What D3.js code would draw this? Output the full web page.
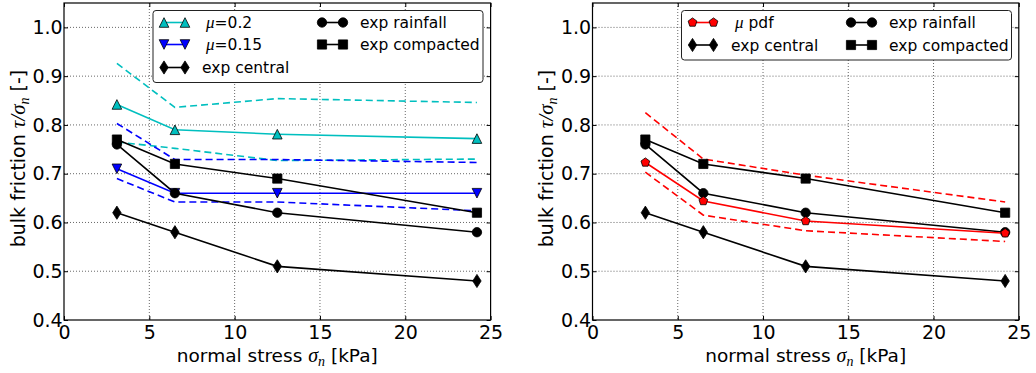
<!DOCTYPE html>
<html><head><meta charset="utf-8">
<script src="https://cdn.jsdelivr.net/npm/d3@7"></script>
<style>body{margin:0;background:#fff} svg{display:block} text{font-family:"DejaVu Sans",sans-serif;fill:#000}</style>
</head><body><svg id="c" width="1036" height="373"></svg>
<script>
// ---- data ----
const stress = [3.1, 6.5, 12.5, 24.2];
const mu02 = [0.842, 0.790, 0.781, 0.772];
const mu02Upper = [0.926, 0.836, 0.854, 0.846];
const mu02Lower = [0.765, 0.752, 0.727, 0.730];
const mu015 = [0.710, 0.660, 0.660, 0.660];
const mu015Upper = [0.803, 0.729, 0.729, 0.723];
const mu015Lower = [0.690, 0.642, 0.642, 0.624];
const expRainfall = [0.760, 0.660, 0.620, 0.580];
const expCompacted = [0.770, 0.720, 0.690, 0.620];
const expCentral = [0.620, 0.580, 0.510, 0.480];
const muPdf = [0.723, 0.644, 0.603, 0.578];
const muPdfUpper = [0.825, 0.730, 0.697, 0.642];
const muPdfLower = [0.703, 0.615, 0.583, 0.561];
const xTicks = [0, 5, 10, 15, 20, 25];
const xTickLabels = ["0", "5", "10", "15", "20", "25"];
const yTicks = [0.4, 0.5, 0.6, 0.7, 0.8, 0.9, 1.0];
const yTickLabels = ["0.4", "0.5", "0.6", "0.7", "0.8", "0.9", "1.0"];
const xDomain = [0, 25];
const yDomain = [0.4, 1.05];

const CYAN = "#00bfbf", BLUE = "#0000ff", RED = "#ff0000", BLACK = "#000000";

const svg = d3.select("#c");

function markerPath(type) {
  switch (type) {
    case "triUp": { const r = 4.8; return `M0,${-r}L${r},${r}L${-r},${r}Z`; }
    case "triDown": { const r = 4.8; return `M0,${r}L${r},${-r}L${-r},${-r}Z`; }
    case "square": { const r = 4.6; return `M${-r},${-r}H${r}V${r}H${-r}Z`; }
    case "diamond": { const w = 4.2, h = 6.6; return `M0,${-h}L${w},0L0,${h}L${-w},0Z`; }
    case "circle": { const r = 4.7; return d3.symbol(d3.symbolCircle, Math.PI * r * r)(); }
    case "pentagon": {
      const r = 4.6; let p = "";
      for (let i = 0; i < 5; i++) { const a = -Math.PI / 2 + i * 2 * Math.PI / 5; p += (i ? "L" : "M") + (r * Math.cos(a)).toFixed(2) + "," + (r * Math.sin(a)).toFixed(2); }
      return p + "Z";
    }
  }
}

function panel(x0, x1, series, legend) {
  const x = d3.scaleLinear().domain(xDomain).range([x0, x1]);
  const y = d3.scaleLinear().domain(yDomain).range([320, 3]);
  const g = svg.append("g");
  const [top, bottom] = y.range().slice().reverse();
  g.append("g").selectAll("line").data(xTicks.slice(1, -1)).join("line")
    .attr("x1", d => x(d)).attr("x2", d => x(d)).attr("y1", y(yDomain[1])).attr("y2", y(yDomain[0]))
    .attr("stroke", "#000").attr("stroke-width", 0.6).attr("stroke-dasharray", "1,2");
  g.append("g").selectAll("line").data(yTicks.slice(1)).join("line")
    .attr("y1", d => y(d)).attr("y2", d => y(d)).attr("x1", x0).attr("x2", x1)
    .attr("stroke", "#000").attr("stroke-width", 0.6).attr("stroke-dasharray", "1,2");
  const axB = d3.axisBottom(x).tickValues(xTicks).tickFormat((d, i) => xTickLabels[i]).tickSizeInner(-4).tickSizeOuter(0).tickPadding(6);
  const axT = d3.axisTop(x).tickValues(xTicks).tickFormat("").tickSizeInner(-4).tickSizeOuter(0);
  const axL = d3.axisLeft(y).tickValues(yTicks).tickFormat((d, i) => yTickLabels[i]).tickSizeInner(-4).tickSizeOuter(0).tickPadding(7);
  const axR = d3.axisRight(y).tickValues(yTicks).tickFormat("").tickSizeInner(-4).tickSizeOuter(0);
  const gb = g.append("g").attr("transform", `translate(0,${y(yDomain[0])})`).call(axB);
  const gt = g.append("g").attr("transform", `translate(0,${y(yDomain[1])})`).call(axT);
  const gl = g.append("g").attr("transform", `translate(${x0},0)`).call(axL);
  const gr = g.append("g").attr("transform", `translate(${x1},0)`).call(axR);
  [gb, gt, gl, gr].forEach(a => { a.select(".domain").remove(); a.selectAll("line").attr("stroke", "#000").attr("stroke-width", 1); a.selectAll("text").attr("font-family", "DejaVu Sans").attr("font-size", 19).attr("fill", "#000"); });
  gl.selectAll("text").attr("dx", "0.3em");
  g.append("rect").attr("x", x0).attr("y", y(yDomain[1])).attr("width", x1 - x0).attr("height", y(yDomain[0]) - y(yDomain[1]))
    .attr("fill", "none").attr("stroke", "#000").attr("stroke-width", 1.2);

  const line = d3.line().x(d => x(d[0])).y(d => y(d[1]));
  series.forEach(s => {
    const pts = stress.map((v, i) => [v, s.values[i]]);
    g.append("path").attr("d", line(pts)).attr("fill", "none").attr("stroke", s.color)
      .attr("stroke-width", 1.6).attr("stroke-dasharray", s.dashed ? "7,4" : null);
    if (s.marker) {
      g.append("g").selectAll("path").data(pts).join("path")
        .attr("transform", d => `translate(${x(d[0])},${y(d[1])})`)
        .attr("d", markerPath(s.marker)).attr("fill", s.fill).attr("stroke", "#000").attr("stroke-width", 0.8);
    }
  });

  const lg = g.append("g");
  lg.append("rect").attr("x", legend.box[0]).attr("y", legend.box[1]).attr("width", legend.box[2]).attr("height", legend.box[3])
    .attr("rx", 3).attr("fill", "#fff").attr("stroke", "#222").attr("stroke-width", 1);
  legend.items.forEach(it => {
    const s = it.s;
    lg.append("line").attr("x1", it.hx).attr("x2", it.hx + 21).attr("y1", it.y).attr("y2", it.y)
      .attr("stroke", s.color).attr("stroke-width", 1.6);
    [it.hx, it.hx + 21].forEach(mx => lg.append("path").attr("transform", `translate(${mx},${it.y})`)
      .attr("d", markerPath(s.marker)).attr("fill", s.fill).attr("stroke", "#000").attr("stroke-width", 0.8));
    const t = lg.append("text").attr("x", it.tx).attr("y", it.y).attr("dy", "0.36em").attr("font-size", 15.5);
    if (it.math) {
      t.append("tspan").attr("font-family", "Liberation Serif").attr("font-style", "italic").attr("font-size", 17).attr("dx", 3).text("μ");
      t.append("tspan").text(it.rest);
    } else t.text(it.label);
  });

  const xl = g.append("text").attr("x", (x0 + x1) / 2).attr("y", 362).attr("text-anchor", "middle").attr("font-size", 18.5);
  xl.append("tspan").text("normal stress ");
  xl.append("tspan").attr("font-family", "Liberation Serif").attr("font-style", "italic").attr("font-size", 20).text("σ");
  xl.append("tspan").attr("font-family", "Liberation Serif").attr("font-style", "italic").attr("font-size", 14).attr("dy", 4).text("n");
  xl.append("tspan").attr("dy", -4).text("  [kPa]");
  const yl = g.append("text").attr("transform", `translate(${legend.ylx},${(top + bottom) / 2 - 3}) rotate(-90)`).attr("text-anchor", "middle").attr("font-size", 19);
  yl.append("tspan").text("bulk friction ");
  yl.append("tspan").attr("font-family", "Liberation Serif").attr("font-style", "italic").attr("font-size", 21).text("τ/σ");
  yl.append("tspan").attr("font-family", "Liberation Serif").attr("font-style", "italic").attr("font-size", 14).attr("dy", 4).text("n");
  yl.append("tspan").attr("dy", -4).text(" [-]");
}

const sMu02 = { values: mu02, color: CYAN, fill: CYAN, marker: "triUp" };
const sMu015 = { values: mu015, color: BLUE, fill: BLUE, marker: "triDown" };
const sRain = { values: expRainfall, color: BLACK, fill: BLACK, marker: "circle" };
const sComp = { values: expCompacted, color: BLACK, fill: BLACK, marker: "square" };
const sCent = { values: expCentral, color: BLACK, fill: BLACK, marker: "diamond" };
const sPdf = { values: muPdf, color: RED, fill: RED, marker: "pentagon" };

panel(64, 490.6, [
  { values: mu02Upper, color: CYAN, dashed: true },
  { values: mu02Lower, color: CYAN, dashed: true },
  { values: mu015Upper, color: BLUE, dashed: true },
  { values: mu015Lower, color: BLUE, dashed: true },
  sMu02, sMu015, sRain, sComp, sCent
], {
  box: [153, 10.5, 330, 72], ylx: 25,
  items: [
    { s: sMu02, hx: 164, y: 22.5, tx: 203, math: true, rest: "=0.2" },
    { s: sMu015, hx: 164, y: 44.5, tx: 203, math: true, rest: "=0.15" },
    { s: sCent, hx: 164, y: 67.5, tx: 202, label: "exp central" },
    { s: sRain, hx: 322, y: 22.5, tx: 360, label: "exp rainfall" },
    { s: sComp, hx: 322, y: 44.5, tx: 360, label: "exp compacted" }
  ]
});

panel(592.5, 1018.8, [
  { values: muPdfUpper, color: RED, dashed: true },
  { values: muPdfLower, color: RED, dashed: true },
  sRain, sComp, sCent, sPdf
], {
  box: [681.5, 10.5, 330, 49.5], ylx: 553,
  items: [
    { s: sPdf, hx: 692.5, y: 22.5, tx: 732, math: true, rest: " pdf" },
    { s: sCent, hx: 692.5, y: 45, tx: 731, label: "exp central" },
    { s: sRain, hx: 851, y: 22.5, tx: 889, label: "exp rainfall" },
    { s: sComp, hx: 851, y: 45, tx: 889, label: "exp compacted" }
  ]
});
</script></body></html>
